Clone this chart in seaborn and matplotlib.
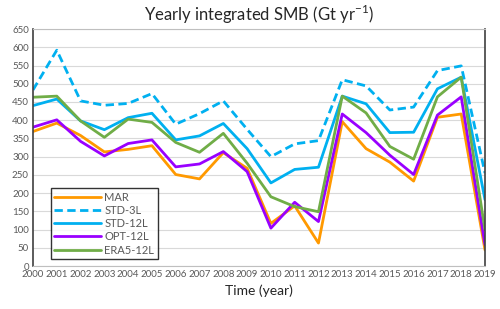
import matplotlib
matplotlib.use('Agg')
import matplotlib.pyplot as plt
import seaborn as sns
import pandas as pd

years = list(range(2000, 2020))
mar = [369, 392, 358, 313, 320, 330, 251, 239, 311, 268, 117, 165, 63, 396, 322, 285, 233, 408, 417, 44]
std_3l = [483, 592, 453, 441, 446, 473, 389, 418, 453, 375, 300, 335, 344, 511, 494, 428, 436, 536, 549, 255]
std_12l = [440, 458, 398, 374, 407, 419, 346, 357, 391, 322, 228, 265, 271, 466, 445, 366, 367, 486, 518, 182]
opt_12l = [381, 401, 342, 302, 336, 346, 272, 280, 314, 259, 104, 175, 122, 417, 366, 304, 251, 414, 464, 58]
era5_12l = [463, 466, 398, 353, 403, 394, 339, 312, 364, 282, 190, 163, 149, 466, 420, 328, 293, 464, 518, 99]

series_names = ['MAR', 'STD-3L', 'STD-12L', 'OPT-12L', 'ERA5-12L']
colors = ['#FF9900', '#00B0F0', '#00B0F0', '#9900FF', '#70AD47']

df = pd.DataFrame({'year': years, 'MAR': mar, 'STD-3L': std_3l, 'STD-12L': std_12l,
                   'OPT-12L': opt_12l, 'ERA5-12L': era5_12l})
long = df.melt(id_vars='year', var_name='run', value_name='smb')

sns.set_style('whitegrid')
plt.rcParams['font.family'] = ['Lato', 'DejaVu Sans']

fig = plt.figure(figsize=(5, 3.09), dpi=100)
ax = fig.add_axes([0.066, 0.139, 0.904, 0.767])

sns.lineplot(data=long, x='year', y='smb', hue='run', style='run',
             hue_order=series_names, style_order=series_names,
             palette=dict(zip(series_names, colors)),
             dashes={'MAR': '', 'STD-3L': (3, 1.6), 'STD-12L': '', 'OPT-12L': '', 'ERA5-12L': ''},
             linewidth=2, ax=ax)

ax.set_xlim(2000, 2019)
ax.set_ylim(0, 650)
ax.set_xticks(years)
ax.set_yticks(range(0, 651, 50))
ax.tick_params(axis='both', labelsize=7, colors='#595959', length=0, pad=3)
ax.grid(axis='y', color='#D9D9D9', linewidth=0.8)
ax.grid(axis='x', visible=False)
for side in ['left', 'right']:
    ax.spines[side].set_color('#404040')
    ax.spines[side].set_linewidth(1.2)
for side in ['top', 'bottom']:
    ax.spines[side].set_color('#BFBFBF')
    ax.spines[side].set_linewidth(0.8)

ax.set_title(r'Yearly integrated SMB (Gt yr$^{\mathregular{-1}}$)', fontsize=12, pad=6)
ax.set_xlabel('Time (year)', fontsize=10, labelpad=4)
ax.set_ylabel('')

leg = ax.legend(loc='lower left', bbox_to_anchor=(0.04, 0.03), fontsize=8,
                frameon=True, fancybox=False, handlelength=4.2, handletextpad=0.3,
                labelspacing=0.2, borderpad=0.3, borderaxespad=0)
leg.get_frame().set_edgecolor('black')
leg.get_frame().set_linewidth(1)
for t in leg.get_texts():
    t.set_color('#595959')

fig.savefig('out.png', dpi=100)
